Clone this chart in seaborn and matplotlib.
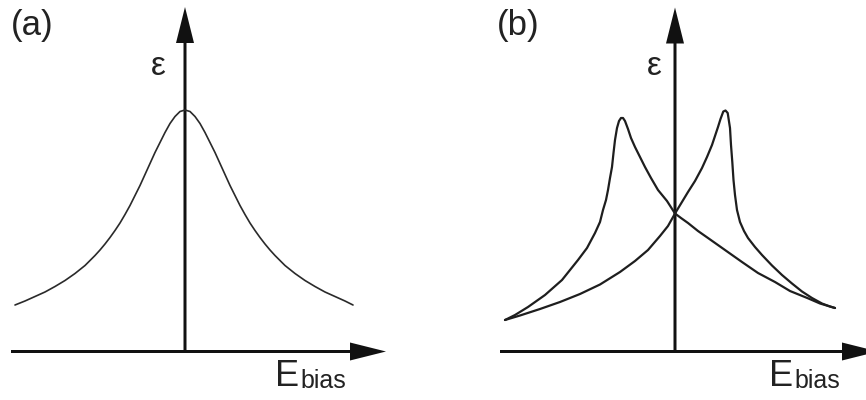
import matplotlib
matplotlib.use("Agg")
import matplotlib.pyplot as plt
import seaborn as sns
import pandas as pd

# (a) paraelectric response: permittivity vs. bias field
bias_a = [-1.70, -1.60, -1.50, -1.40, -1.30, -1.20, -1.10, -1.00, -0.95, -0.90,
          -0.85, -0.80, -0.75, -0.70, -0.65, -0.60, -0.55, -0.50, -0.45, -0.40,
          -0.35, -0.30, -0.25, -0.20, -0.15, -0.10, -0.05, 0.00,
          0.05, 0.10, 0.15, 0.20, 0.25, 0.30, 0.35, 0.40, 0.45, 0.50,
          0.55, 0.60, 0.65, 0.70, 0.75, 0.80, 0.85, 0.90, 0.95, 1.00,
          1.10, 1.20, 1.30, 1.40, 1.50, 1.60, 1.68]
eps_a = [0.465, 0.505, 0.55, 0.595, 0.65, 0.71, 0.78, 0.86, 0.91, 0.96,
         1.015, 1.075, 1.14, 1.21, 1.285, 1.37, 1.46, 1.56, 1.66, 1.77,
         1.88, 1.99, 2.09, 2.19, 2.28, 2.35, 2.40, 2.415,
         2.40, 2.35, 2.28, 2.19, 2.09, 1.99, 1.88, 1.77, 1.66, 1.56,
         1.46, 1.37, 1.285, 1.21, 1.14, 1.075, 1.015, 0.96, 0.91, 0.86,
         0.78, 0.71, 0.65, 0.595, 0.55, 0.505, 0.465]

# (b) ferroelectric butterfly loop: rising sweep
bias_up = [-1.70, -1.55, -1.35, -1.15, -0.95, -0.75, -0.55, -0.40, -0.27, -0.15,
           -0.07, 0.00, 0.13, 0.20, 0.27, 0.32, 0.37, 0.40, 0.43, 0.455,
           0.483, 0.505, 0.527, 0.55, 0.56, 0.573, 0.585, 0.60, 0.62, 0.65,
           0.69, 0.73, 0.80, 0.87, 0.97, 1.07, 1.17, 1.27, 1.37, 1.47,
           1.55, 1.60]
eps_up = [0.315, 0.36, 0.425, 0.495, 0.575, 0.67, 0.795, 0.905, 1.015, 1.155,
          1.255, 1.38, 1.595, 1.705, 1.835, 1.945, 2.065, 2.155, 2.245, 2.325,
          2.40, 2.41, 2.385, 2.235, 2.065, 1.895, 1.715, 1.565, 1.415, 1.295,
          1.205, 1.135, 1.045, 0.965, 0.86, 0.765, 0.68, 0.60, 0.535, 0.48,
          0.45, 0.435]

# (b) falling sweep
bias_down = [1.60, 1.45, 1.33, 1.15, 1.00, 0.83, 0.67, 0.50, 0.33, 0.23,
             0.13, 0.06, 0.00, -0.08, -0.17, -0.24, -0.30, -0.35, -0.40, -0.44,
             -0.47, -0.50, -0.52, -0.54, -0.56, -0.58, -0.60, -0.615, -0.63,
             -0.65, -0.67, -0.69, -0.72, -0.75, -0.80, -0.88, -0.97, -1.13,
             -1.30, -1.47, -1.60, -1.70]
eps_down = [0.435, 0.48, 0.532, 0.605, 0.695, 0.785, 0.895, 1.015, 1.135, 1.205,
            1.285, 1.335, 1.38, 1.505, 1.615, 1.735, 1.845, 1.945, 2.045, 2.135,
            2.225, 2.305, 2.335, 2.335, 2.305, 2.235, 2.115, 1.985, 1.845,
            1.735, 1.615, 1.515, 1.415, 1.295, 1.185, 1.035, 0.915, 0.715,
            0.565, 0.445, 0.365, 0.315]

panel_labels = ["(a)", "(b)"]
y_label = "ε"
x_label_main = "E"
x_label_sub = "bias"

sns.set_style("white")
plt.rcParams["font.family"] = ["Liberation Sans", "DejaVu Sans"]

W, H = 866, 400
fig = plt.figure(figsize=(W / 100, H / 100), dpi=100)


def fpos(x, y):
    return x / W, 1 - y / H


axA = fig.add_axes([0, 0, 0.5, 1])
axB = fig.add_axes([0.5, 0, 0.5, 1])
axA.set_xlim(-1.85, 2.48)
axB.set_xlim(-2.42, 1.91)
for ax in (axA, axB):
    ax.set_ylim(-0.485, 3.515)
    ax.axis("off")

arrow_kw = dict(width=0.03, head_width=0.18, head_length=0.36,
                length_includes_head=True, fc="#111111", ec="#111111", lw=0)

# coordinate axes drawn as arrows
axA.arrow(-1.74, 0, 3.75, 0, **arrow_kw)
axA.arrow(0, -0.015, 0, 3.46, **arrow_kw)
axB.arrow(-1.75, 0, 3.78, 0, **arrow_kw)
axB.arrow(0, -0.015, 0, 3.455, **arrow_kw)

df_a = pd.DataFrame({"bias": bias_a, "eps": eps_a})
sns.lineplot(data=df_a, x="bias", y="eps", ax=axA, color="#2a2a2a",
             linewidth=1.2, sort=False, estimator=None)

df_up = pd.DataFrame({"bias": bias_up, "eps": eps_up})
df_down = pd.DataFrame({"bias": bias_down, "eps": eps_down})
for d in (df_up, df_down):
    sns.lineplot(data=d, x="bias", y="eps", ax=axB, color="#1e1e1e",
                 linewidth=1.6, sort=False, estimator=None)
for ax in (axA, axB):
    ax.set_xlabel("")
    ax.set_ylabel("")

# labels
for lab, x0, eps_x, e_x in ((panel_labels[0], 11, 158, 275),
                            (panel_labels[1], 497, 654, 769)):
    fig.text(*fpos(x0, 35), lab, fontsize=25, color="#222222",
             ha="left", va="baseline")
    fig.text(*fpos(eps_x, 75), y_label, fontsize=24, color="#222222",
             ha="center", va="baseline")
    fig.text(*fpos(e_x, 386.5), x_label_main, fontsize=26, color="#222222",
             ha="left", va="baseline")
    fig.text(*fpos(e_x + 25, 388), x_label_sub, fontsize=18, color="#222222",
             ha="left", va="baseline")

fig.savefig("out.png", dpi=100, facecolor="white")
